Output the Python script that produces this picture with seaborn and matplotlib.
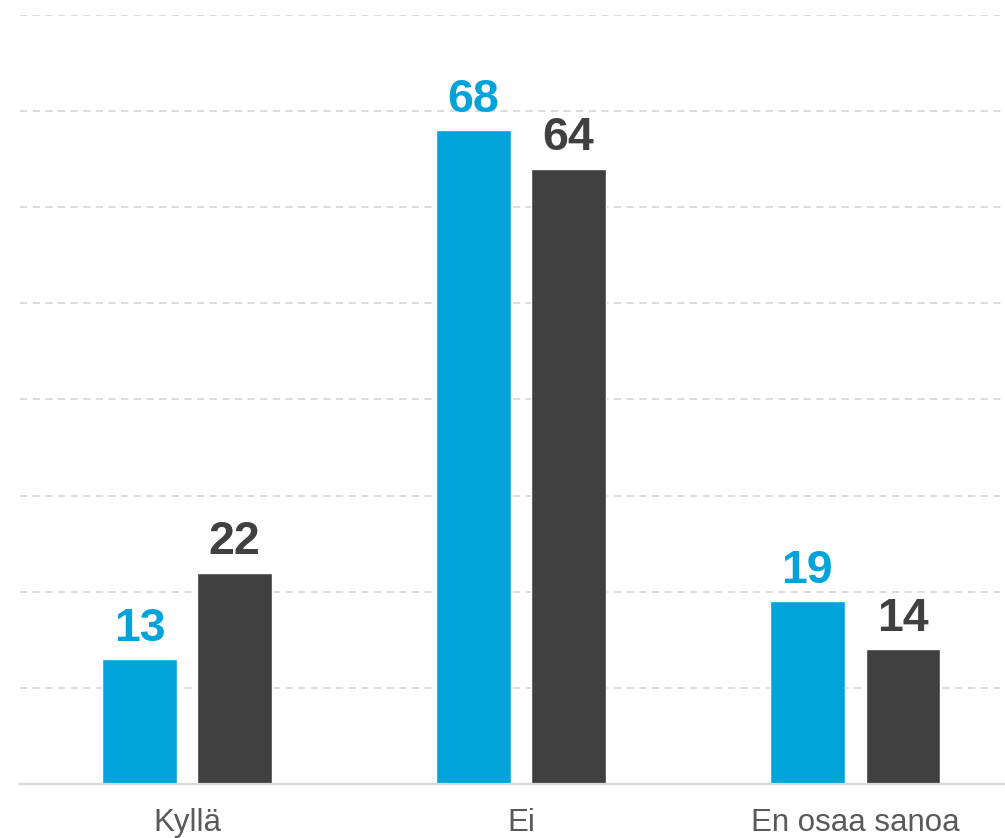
import pandas as pd
import seaborn as sns
import matplotlib.pyplot as plt

# answers and the two series
categories = ["Kyllä", "Ei", "En osaa sanoa"]
series_names = ["Sarja 1", "Sarja 2"]
values_1 = [13, 68, 19]
values_2 = [22, 64, 14]

colors = ["#00A3DA", "#404040"]

df = pd.DataFrame({
    "vastaus": categories * 2,
    "sarja": [series_names[0]] * 3 + [series_names[1]] * 3,
    "arvo": values_1 + values_2,
})

sns.set_style("white")
plt.rcParams["font.family"] = ["Liberation Sans", "DejaVu Sans"]

fig = plt.figure(figsize=(10.05, 8.38), dpi=100)
ax = fig.add_axes([20 / 1005, 54 / 838, 985 / 1005, 769 / 838])

sns.barplot(data=df, x="vastaus", y="arvo", hue="sarja", palette=colors,
            width=0.57, gap=0.22, legend=False, ax=ax, saturation=1)

# value labels in the bar colour
for cont, col in zip(ax.containers, colors):
    ax.bar_label(cont, fmt="%d", padding=6, fontsize=33.5, fontweight="bold", color=col)

ax.set_ylim(0, 80)
ax.set_xlim(-0.5, 2.449)
ax.set_yticks(range(10, 81, 10))
ax.yaxis.grid(True, linestyle=(0, (4, 3)), color="#d9d9d9", linewidth=1.3)
ax.set_axisbelow(True)
ax.tick_params(axis="y", left=False, labelleft=False)
ax.tick_params(axis="x", bottom=False, labelsize=22.5, labelcolor="#595959", pad=14)
ax.set_xlabel("")
ax.set_ylabel("")
for s in ["top", "right", "left"]:
    ax.spines[s].set_visible(False)
ax.spines["bottom"].set_color("#d9d9d9")
ax.spines["bottom"].set_linewidth(1.6)

plt.savefig("out.png", dpi=100)
